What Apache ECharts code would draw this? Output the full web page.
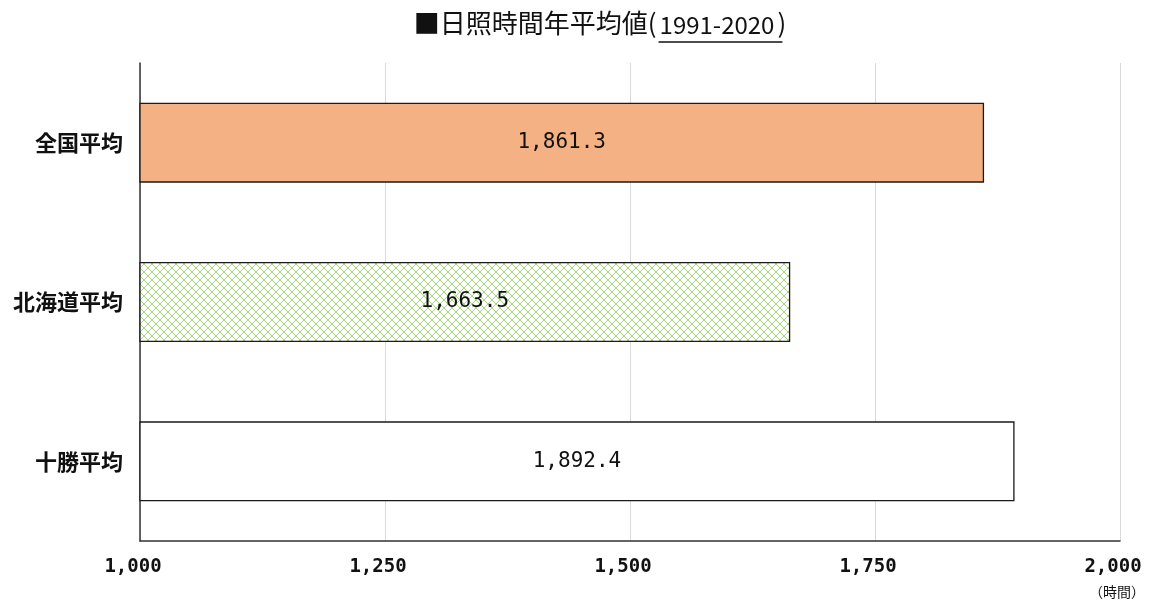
<!DOCTYPE html>
<html>
<head>
<meta charset="utf-8">
<script src="https://cdn.jsdelivr.net/npm/echarts@6/dist/echarts.min.js"></script>
<style>
  html, body { margin: 0; padding: 0; background: #fff; }
  #main { width: 1150px; height: 601px; }
</style>
</head>
<body>
<div id="main"></div>
<script>
// データ
const categories = ['全国平均', '北海道平均', '十勝平均'];
const hours = [1861.3, 1663.5, 1892.4];
const xTicks = [1000, 1250, 1500, 1750, 2000];

const jpFont = '"Noto Sans CJK JP", sans-serif';
const numFont = '"DejaVu Sans Mono", monospace';

// 北海道の網掛けパターン
function makeLattice() {
  const c = document.createElement('canvas');
  c.width = 8; c.height = 8;
  const g = c.getContext('2d');
  g.fillStyle = '#ffffff';
  g.fillRect(0, 0, 8, 8);
  g.strokeStyle = '#a8d87c';
  g.lineWidth = 1;
  g.beginPath();
  g.moveTo(-1, -1); g.lineTo(9, 9);
  g.moveTo(9, -1); g.lineTo(-1, 9);
  g.stroke();
  return c;
}
const lattice = makeLattice();

const barFills = ['#f4b183', { image: lattice, repeat: 'repeat' }, '#ffffff'];

function fmt(v, d) {
  return v.toLocaleString('en-US', { minimumFractionDigits: d, maximumFractionDigits: d });
}

// タイトル(下線の位置を測る)
const tPre = '■日照時間年平均値(';
const tMid = '1991-2020';
const tPost = ')';
const fBig = '26px ' + jpFont;
const fNum = '24px ' + jpFont;
const gap = 3;
const meas = document.createElement('canvas').getContext('2d');
meas.font = fBig;
const wPre = meas.measureText(tPre).width;
const wPost = meas.measureText(tPost).width;
meas.font = fNum;
const wMid = meas.measureText(tMid).width;
const titleCx = 600;
const x0 = titleCx - (wPre + wMid + wPost + 2 * gap) / 2;
const xMid = x0 + wPre + gap;
const baseY = 36;

const chart = echarts.init(document.getElementById('main'));
chart.setOption({
  backgroundColor: '#fff',
  animation: false,
  grid: { left: 140, right: 30, top: 63, bottom: 60 },
  xAxis: {
    type: 'value',
    min: xTicks[0],
    max: xTicks[xTicks.length - 1],
    interval: 250,
    axisLine: { show: true, lineStyle: { color: '#333', width: 1.5 } },
    axisTick: { show: false },
    splitLine: { show: true, lineStyle: { color: '#d9d9d9', width: 1 } },
    axisLabel: {
      margin: 17,
      color: '#111',
      fontFamily: numFont,
      fontWeight: 'bold',
      fontSize: 19,
      padding: [0, 14, 0, 0],
      formatter: v => fmt(v, 0)
    }
  },
  yAxis: {
    type: 'category',
    data: categories,
    inverse: true,
    axisLine: { show: true, lineStyle: { color: '#333', width: 1.5 } },
    axisTick: { show: false },
    axisLabel: {
      margin: 17,
      color: '#111',
      fontFamily: jpFont,
      fontWeight: 'bold',
      fontSize: 22
    }
  },
  series: [{
    type: 'bar',
    barWidth: 80,
    data: hours.map((v, i) => ({ value: v, itemStyle: { color: barFills[i] } })),
    itemStyle: { borderColor: '#1a1a1a', borderWidth: 1.3 },
    label: {
      show: true,
      position: 'inside',
      color: '#111',
      fontFamily: numFont,
      fontSize: 21,
      formatter: p => fmt(p.value, 1)
    }
  }],
  graphic: [
    {
      type: 'text', x: x0, y: baseY,
      style: { text: tPre, font: fBig, fill: '#111', verticalAlign: 'bottom' }
    },
    {
      type: 'text', x: xMid, y: baseY + 1,
      style: { text: tMid, font: fNum, fill: '#111', verticalAlign: 'bottom' }
    },
    {
      type: 'text', x: xMid + wMid + gap, y: baseY,
      style: { text: tPost, font: fBig, fill: '#111', verticalAlign: 'bottom' }
    },
    {
      type: 'line',
      shape: { x1: xMid - 1, y1: 42, x2: xMid + wMid + 8, y2: 42 },
      style: { stroke: '#111', lineWidth: 1.5 }
    },
    {
      type: 'text',
      right: 5, bottom: 2,
      style: {
        text: '（時間）',
        font: '14px ' + jpFont,
        fill: '#111'
      }
    }
  ]
});
</script>
</body>
</html>
